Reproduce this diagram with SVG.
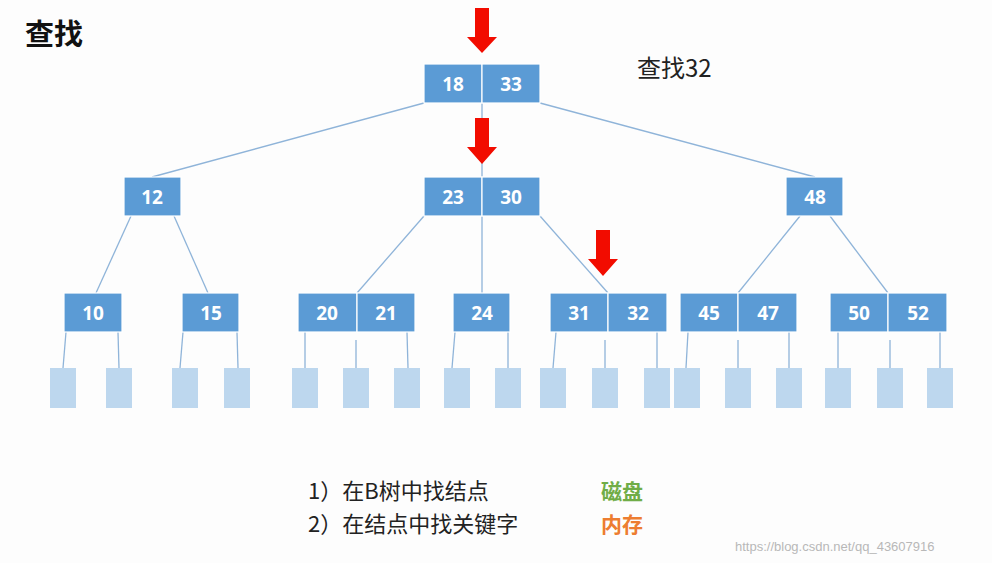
<svg xmlns="http://www.w3.org/2000/svg" width="992" height="563" viewBox="0 0 992 563">
<defs><style>
.n{fill:#5b9bd5;stroke:#fff;stroke-width:1.2}
.t{fill:#fff;font:bold 19px "Open Sans","Liberation Sans",sans-serif;text-anchor:middle}
.l{fill:#bdd7ee}
.c line{stroke:#8fb4d9;stroke-width:1.3}
.a{fill:#f20c00}
.z{font-family:"Noto Sans CJK SC","Noto Sans",sans-serif}
</style></defs>
<rect width="992" height="563" fill="#fdfdfd"/>
<text x="25" y="45" class="z" font-size="29" font-weight="bold" fill="#111">查找</text>
<text x="637" y="77" class="z" font-size="24" fill="#222">查找32</text>
<g class="c">
<line x1="424" y1="103" x2="152" y2="177"/><line x1="482" y1="103" x2="482" y2="177"/><line x1="540" y1="103" x2="815" y2="177"/>
<line x1="131" y1="216" x2="96" y2="293"/><line x1="174" y1="216" x2="208" y2="293"/>
<line x1="424" y1="216" x2="357" y2="293"/><line x1="482" y1="216" x2="482" y2="293"/><line x1="540" y1="216" x2="608" y2="293"/>
<line x1="800" y1="216" x2="738" y2="293"/><line x1="830" y1="216" x2="888" y2="293"/>
<line x1="66" y1="332" x2="63" y2="368"/><line x1="118" y1="332" x2="119" y2="368"/>
<line x1="183" y1="332" x2="180" y2="368"/><line x1="237" y1="332" x2="238" y2="368"/>
<line x1="305" y1="332" x2="305" y2="368"/><line x1="356" y1="340" x2="356" y2="368"/><line x1="407" y1="332" x2="408" y2="368"/>
<line x1="455" y1="332" x2="452" y2="368"/><line x1="508" y1="332" x2="508" y2="368"/>
<line x1="556" y1="332" x2="553" y2="368"/><line x1="605" y1="340" x2="605" y2="368"/><line x1="657" y1="332" x2="657" y2="368"/>
<line x1="688" y1="332" x2="686" y2="368"/><line x1="738" y1="340" x2="738" y2="368"/><line x1="789" y1="332" x2="789" y2="368"/>
<line x1="838" y1="332" x2="838" y2="368"/><line x1="890" y1="340" x2="890" y2="368"/><line x1="940" y1="332" x2="940" y2="368"/>
</g>
<g id="root"><rect class="n" x="424" y="64" width="58" height="39"/><rect class="n" x="482" y="64" width="58" height="39"/><text class="t" x="453" y="91">18</text><text class="t" x="511" y="91">33</text></g>
<g id="n12"><rect class="n" x="124" y="177" width="57" height="39"/><text class="t" x="152" y="204">12</text></g>
<g id="n2330"><rect class="n" x="424" y="177" width="58" height="39"/><rect class="n" x="482" y="177" width="58" height="39"/><text class="t" x="453" y="204">23</text><text class="t" x="511" y="204">30</text></g>
<g id="n48"><rect class="n" x="786" y="177" width="57" height="39"/><text class="t" x="815" y="204">48</text></g>
<g id="n10"><rect class="n" x="64" y="293" width="58" height="39"/><text class="t" x="93" y="320">10</text></g>
<g id="n15"><rect class="n" x="182" y="293" width="57" height="39"/><text class="t" x="211" y="320">15</text></g>
<g id="n2021"><rect class="n" x="298" y="293" width="59" height="39"/><rect class="n" x="357" y="293" width="58" height="39"/><text class="t" x="327" y="320">20</text><text class="t" x="386" y="320">21</text></g>
<g id="n24"><rect class="n" x="453" y="293" width="57" height="39"/><text class="t" x="482" y="320">24</text></g>
<g id="n3132"><rect class="n" x="550" y="293" width="58" height="39"/><rect class="n" x="608" y="293" width="59" height="39"/><text class="t" x="579" y="320">31</text><text class="t" x="638" y="320">32</text></g>
<g id="n4547"><rect class="n" x="680" y="293" width="58" height="39"/><rect class="n" x="738" y="293" width="59" height="39"/><text class="t" x="709" y="320">45</text><text class="t" x="768" y="320">47</text></g>
<g id="n5052"><rect class="n" x="830" y="293" width="58" height="39"/><rect class="n" x="888" y="293" width="59" height="39"/><text class="t" x="859" y="320">50</text><text class="t" x="918" y="320">52</text></g>
<g id="leaves">
<rect class="l" x="50" y="368" width="26" height="40"/><rect class="l" x="106" y="368" width="26" height="40"/>
<rect class="l" x="172" y="368" width="26" height="40"/><rect class="l" x="224" y="368" width="26" height="40"/>
<rect class="l" x="292" y="368" width="26" height="40"/><rect class="l" x="343" y="368" width="26" height="40"/><rect class="l" x="394" y="368" width="26" height="40"/>
<rect class="l" x="444" y="368" width="26" height="40"/><rect class="l" x="495" y="368" width="26" height="40"/>
<rect class="l" x="540" y="368" width="26" height="40"/><rect class="l" x="592" y="368" width="26" height="40"/><rect class="l" x="644" y="368" width="26" height="40"/>
<rect class="l" x="674" y="368" width="26" height="40"/><rect class="l" x="725" y="368" width="26" height="40"/><rect class="l" x="776" y="368" width="26" height="40"/>
<rect class="l" x="825" y="368" width="26" height="40"/><rect class="l" x="877" y="368" width="26" height="40"/><rect class="l" x="927" y="368" width="26" height="40"/>
</g>
<g id="arrows">
<polygon class="a" points="475,8 489,8 489,37 497,37 482,53 467,37 475,37"/>
<polygon class="a" points="475,118 489,118 489,147 497,147 482,164 467,147 475,147"/>
<polygon class="a" points="596,230 610,230 610,259 618,259 603,276 588,259 596,259"/>
</g>
<text x="308" y="499" class="z" font-size="22" fill="#222">1）在B树中找结点</text>
<text x="308" y="532" class="z" font-size="22" fill="#222">2）在结点中找关键字</text>
<text x="601" y="499" class="z" font-size="21" font-weight="bold" fill="#70ad47">磁盘</text>
<text x="601" y="532" class="z" font-size="21" font-weight="bold" fill="#ed7d31">内存</text>
<text x="735" y="551" font-family="Liberation Sans,sans-serif" font-size="13" fill="#b8b8b8">https://blog.csdn.net/qq_43607916</text>
</svg>
